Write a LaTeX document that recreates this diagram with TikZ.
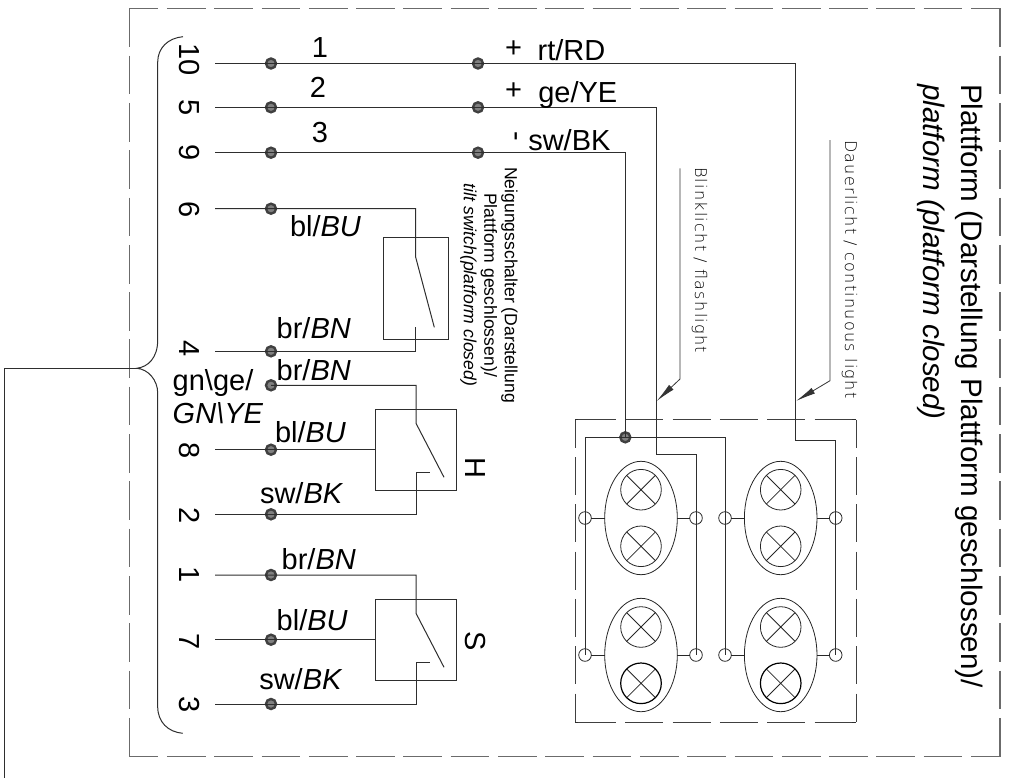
\documentclass[tikz,border=0pt]{standalone}
\usepackage{fontspec}
\setmainfont{Liberation Sans}
\newfontfamily\leaderfont[LetterSpace=8]{DejaVu Sans ExtraLight}
\usetikzlibrary{shapes.geometric,arrows.meta}
\tikzset{
  x=1pt,y=-1pt,
  wire/.style={draw=black!82,line width=1pt},
  thinw/.style={draw=black!85,line width=.8pt},
  outerdash/.style={draw=black!58,line width=1.3pt,dash pattern=on 38.7pt off 8.6pt},
  innerdash/.style={draw=black!75,line width=1pt,dash pattern=on 38pt off 9.3pt},
  dotnode/.style={circle,draw=black!75,fill=black!50,line width=2.4pt,minimum size=10pt,inner sep=0pt,outer sep=0pt},
  term/.style={circle,draw=black!85,line width=.8pt,minimum size=12.6pt,inner sep=0pt,outer sep=0pt},
  shell/.style={ellipse,draw=black!85,line width=.8pt,minimum width=72.6pt,minimum height=113.4pt,inner sep=0pt,outer sep=0pt},
  lamp/.style={circle,draw=black!85,line width=.8pt,minimum size=40.6pt,inner sep=0pt,outer sep=0pt,
    path picture={\draw[thinw] (path picture bounding box.north west)--(path picture bounding box.south east)
      (path picture bounding box.north east)--(path picture bounding box.south west);}},
  boldlamp/.style={lamp,draw=black,line width=1.2pt},
  lab/.style={inner sep=0pt,outer sep=0pt,anchor=base west,font=\fontsize{29}{34}\selectfont},
  num/.style={inner sep=0pt,outer sep=0pt,anchor=base,rotate=-90,font=\fontsize{29}{34}\selectfont},
  leadertext/.style={inner sep=0pt,outer sep=0pt,anchor=base west,rotate=-90,text=black,font=\fontsize{16}{18}\leaderfont},
  leader/.style={draw=black!80,line width=.8pt,-{Latex[length=20pt,width=6.5pt]}},
}
\begin{document}
\begin{tikzpicture}
\useasboundingbox (0,0) rectangle (1011,779);

% outer frame
\coordinate (ftl) at (129.3,8.3); \coordinate (ftr) at (1000,8.3);
\coordinate (fbl) at (129.3,756.7); \coordinate (fbr) at (1000,756.7);
\draw[outerdash,dash phase=9.7pt] (ftl) -- (ftr);
\draw[outerdash,dash phase=9.7pt] (fbl) -- (fbr);
\draw[outerdash] (ftl) -- (fbl);
\draw[outerdash] (ftr) -- (fbr);

% inner frame
\coordinate (il) at (575,419.7); \coordinate (ir) at (856.3,419.7);
\coordinate (jl) at (575,722.3); \coordinate (jr) at (856.3,722.3);
\coordinate (il2) at (578,419.7); \coordinate (ir2) at (852,419.7);
\coordinate (jl2) at (578,722.3); \coordinate (jr2) at (852,722.3);
\draw[innerdash] (il2) -- (ir2);
\draw[innerdash] (jl2) -- (jr2);
\draw[innerdash,dash phase=10pt] (il) -- (jl);
\draw[innerdash,dash phase=10pt] (ir) -- (jr);
\draw[wire] (il2) -- (il);
\draw[wire] (ir2) -- (ir);
\draw[wire] (jl2) -- (jl);
\draw[wire] (jr2) -- (jr);

% connection dots
\foreach \n/\y in {10/63.5,5/107.3,9/152.7,6/208.7,4/351.3,h/385.3,8/449.7,2/514.3,one/575,7/639.7,3/704}
  {\node[dotnode] (a\n) at (271,\y) {};
   \coordinate (s\n) at (215,\y);}
\foreach \n/\y in {10/63.5,5/107.3,9/152.7}
  {\node[dotnode] (b\n) at (478,\y) {};}
\node[dotnode] (junc) at (625.3,437.3) {};

% lamp clusters
\foreach \c/\x in {l/641,r/780.7}{
  \node[shell] (e\c1) at (\x,518) {};
  \node[shell] (e\c2) at (\x,655) {};
  \node[lamp] (q\c1) at (\x,489.7) {};
  \node[lamp] (q\c2) at (\x,546.3) {};
  \node[lamp] (q\c3) at (\x,627) {};
  \node[boldlamp] (q\c4) at (\x,683.3) {};
}
\foreach \n/\x in {a/585,b/696,c/725,d/835.7}{
  \node[term] (t\n1) at (\x,518) {};
  \node[term] (t\n2) at (\x,655) {};
}
\draw[thinw] (ta1) -- (el1) (tb1) -- (el1) (tc1) -- (er1) (td1) -- (er1);
\draw[thinw] (ta2) -- (el2) (tb2) -- (el2) (tc2) -- (er2) (td2) -- (er2);

% lamp wiring
\coordinate (k10) at (795.7,440);
\coordinate (k5) at (656,454.7);
\draw[wire] (s10) -- (b10.center) -| (k10) -| (td2.center);
\draw[wire] (s5) -- (b5.center) -| (k5) -| (tb2.center);
\draw[wire] (s9) -- (b9.center) -| (junc.center);
\draw[wire] (ta2.center) |- (junc.center) -| (tc2.center);

% tilt switch
\node[draw=black!82,line width=.9pt,minimum width=65pt,minimum height=102pt,inner sep=0pt] (sw1) at (415.8,288.3) {};
\coordinate (c1a) at (415.7,257.3); \coordinate (c1b) at (434.3,327.3); \coordinate (c1c) at (415.7,326.7);
\draw[wire] (s6) -| (c1a) -- (c1b);
\draw[wire] (s4) -| (c1c);

% switch H
\node[draw=black!82,line width=.9pt,minimum width=81pt,minimum height=80.6pt,inner sep=0pt] (sw2) at (415.8,450) {};
\coordinate (c2a) at (416,423.3); \coordinate (c2b) at (444,477.3); \coordinate (c2c) at (416,472.3); \coordinate (c2d) at (430,472.3);
\draw[wire] (ah.center) -| (c2a) -- (c2b);
\draw[wire] (s8) -- (sw2.west |- s8);
\draw[wire] (s2) -| (c2c) -- (c2d);

% switch S
\node[draw=black!82,line width=.9pt,minimum width=81pt,minimum height=80.6pt,inner sep=0pt] (sw3) at (415.8,639.7) {};
\coordinate (c3a) at (416,613.3); \coordinate (c3b) at (444,667.3); \coordinate (c3c) at (416,662); \coordinate (c3d) at (430,662);
\draw[wire] (sone) -| (c3a) -- (c3b);
\draw[wire] (s7) -- (sw3.west |- s7);
\draw[wire] (s3) -| (c3c) -- (c3d);

% brace and cable
\coordinate (bt) at (183,36.7); \coordinate (bm1) at (157.7,62); \coordinate (bm2) at (157.7,340);
\coordinate (tip) at (136.7,368.3); \coordinate (bm3) at (157.7,393); \coordinate (bm4) at (157.7,706.7);
\coordinate (bb) at (182.7,733.3); \coordinate (cab1) at (4,368.3); \coordinate (cab2) at (4,778);
\draw[wire] (bt) .. controls (168,38) and (157.7,48) .. (bm1) -- (bm2)
  .. controls (157.7,358) and (148,367) .. (tip)
  .. controls (148,369) and (157.7,380) .. (bm3) -- (bm4)
  .. controls (157.7,722) and (168,732) .. (bb);
\draw[wire] (tip) -- (cab1) -- (cab2);

% leaders
\coordinate (l1a) at (680,168.3); \coordinate (l1b) at (680,379); \coordinate (l1c) at (656.7,401);
\coordinate (l2a) at (830,140); \coordinate (l2b) at (830,380.7); \coordinate (l2c) at (796,401);
\draw[leader] (l1a) -- (l1b) -- (l1c);
\draw[leader] (l2a) -- (l2b) -- (l2c);
\node[leadertext] (tblink) at (695,167) {Blinklicht / flashlight};
\node[leadertext] (tdauer) at (845,140) {Dauerlicht / continuous light};

% pin numbers
\node[num] (n10) at (179.3,59.5) {10};
\node[num] (n5) at (179.3,107.7) {5};
\node[num] (n9) at (179.3,153) {9};
\node[num] (n6) at (179.3,209.3) {6};
\node[num] (n4) at (179.3,349) {4};
\node[num] (n8) at (179.3,451) {8};
\node[num] (n2) at (179.3,515.7) {2};
\node[num] (n1) at (179.3,575) {1};
\node[num] (n7) at (179.3,641.7) {7};
\node[num] (n3) at (179.3,704.3) {3};
\node[num] (nH) at (465,468.3) {H};
\node[num] (nS) at (465,640.7) {S};

% wire labels
\node[lab,anchor=base] (w1) at (320,57.3) {1};
\node[lab,anchor=base] (w2) at (318,97.3) {2};
\node[lab,anchor=base] (w3) at (320,142.7) {3};
\node[lab,anchor=center] (p1) at (513.5,49.3) {+};
\node[lab,anchor=center] (p2) at (513.5,91) {+};
\node[num,anchor=center] (m3) at (513.3,136.7) {-};
\node[lab] (l1) at (537.7,60) {rt/RD};
\node[lab] (l2) at (538.3,102.7) {ge/YE};
\node[lab] (l3) at (528.3,150) {sw/BK};
\node[lab] (c6) at (290,236) {bl/\textit{BU}};
\node[lab] (c4) at (276.7,338.3) {br/\textit{BN}};
\node[lab] (ch) at (276.7,380) {br/\textit{BN}};
\node[lab] (c8) at (275,442.3) {bl/\textit{BU}};
\node[lab] (c2) at (260,503.3) {sw/\textit{BK}};
\node[lab] (c1) at (281.7,569.3) {br/\textit{BN}};
\node[lab] (c7) at (276.7,630.7) {bl/\textit{BU}};
\node[lab] (c3) at (259.3,689.3) {sw/\textit{BK}};
\node[lab] (g1) at (172.7,390) {gn\textbackslash ge/};
\node[lab] (g2) at (172.7,423.3) {\textit{GN\textbackslash YE}};

% block texts
\node[rotate=-90,inner sep=0pt,align=center,anchor=center,font=\fontsize{17.6}{20.5}\selectfont] (tilt) at (489,285)
  {Neigungsschalter (Darstellung\\Plattform geschlossen)/\\\textit{tilt switch(platform closed)}};
\node[rotate=-90,inner sep=0pt,align=left,anchor=north west,font=\fontsize{29.6}{38}\selectfont] (title) at (983,84)
  {Plattform (Darstellung Plattform geschlossen)/\\\textit{platform (platform closed)}};
\end{tikzpicture}
\end{document}
